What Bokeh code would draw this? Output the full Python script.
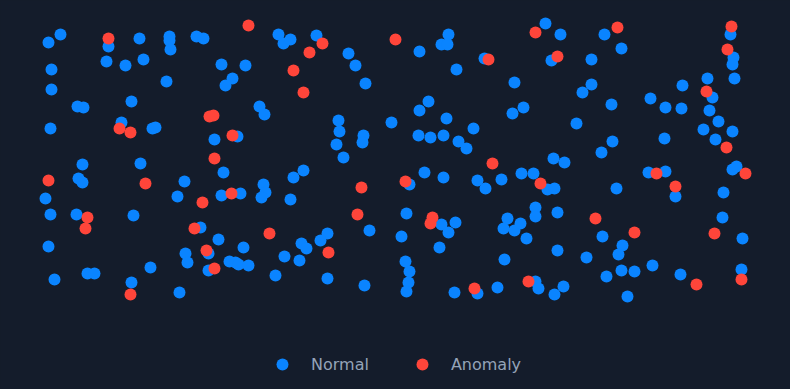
from bokeh.plotting import figure
from bokeh.models import Range1d, Legend, LegendItem, ColumnDataSource
from bokeh.embed import file_html
from bokeh.resources import INLINE

BG = "#141c2b"
BLUE = "#0a84ff"
RED = "#ff453a"

normal_x = [48, 60, 108, 139, 169, 169, 170, 196, 203, 106, 125, 143, 51, 221, 245, 232, 225, 166, 51, 131, 77, 83, 259, 264, 50, 121, 152, 155, 214, 237, 82, 140,
            278, 283, 290, 316, 448, 441, 447, 419, 348, 355, 365, 484, 456, 514, 428, 419, 338, 339, 336, 343, 363, 362, 391, 446, 473, 418, 430, 443, 458, 466, 512,
            545, 560, 604, 621, 551, 591, 730, 733, 732, 707, 734, 682, 591, 582, 712, 650, 665, 681, 709, 523, 611, 576, 718, 703, 732, 715, 664, 612, 601, 553, 564,
            223, 78, 82, 184, 45, 177, 221, 240, 263, 265, 261, 50, 76, 133, 200, 218, 48, 185, 187, 208, 243, 229, 235, 238, 248, 208, 150, 87, 94, 275, 54, 131, 179,
            303, 293, 409, 424, 443, 477, 485, 501, 290, 406, 441, 455, 448, 507, 503, 514, 369, 327, 320, 401, 301, 306, 284, 299, 439, 405, 409, 408, 406, 327, 364, 504, 454, 477, 497,
            521, 533, 547, 554, 648, 665, 732, 736, 675, 616, 723, 535, 535, 557, 520, 526, 722, 602, 742, 557, 622, 618, 586, 652, 621, 634, 606, 680, 741, 535, 538, 563, 554, 627]
normal_y = [42, 34, 46, 38, 36, 40, 49, 36, 38, 61, 65, 59, 69, 64, 65, 78, 85, 81, 89, 101, 106, 107, 106, 114, 128, 122, 128, 127, 139, 136, 164, 163,
            34, 43, 39, 35, 34, 44, 44, 51, 53, 65, 83, 58, 69, 82, 101, 110, 120, 131, 144, 157, 135, 142, 122, 118, 128, 135, 137, 135, 141, 148, 113,
            23, 34, 34, 48, 60, 59, 34, 57, 64, 78, 78, 85, 84, 92, 97, 98, 107, 108, 110, 107, 104, 123, 121, 129, 131, 139, 138, 141, 152, 158, 162,
            172, 178, 182, 181, 198, 196, 195, 193, 184, 192, 197, 214, 214, 215, 227, 239, 246, 253, 262, 253, 247, 261, 262, 264, 265, 270, 267, 273, 273, 275, 279, 282, 292,
            170, 177, 184, 172, 177, 180, 188, 179, 199, 213, 224, 222, 232, 218, 228, 230, 230, 233, 240, 236, 243, 248, 256, 260, 247, 261, 271, 282, 291, 278, 285, 259, 292, 293, 287,
            173, 173, 189, 188, 172, 171, 169, 166, 196, 188, 192, 207, 216, 212, 223, 238, 217, 236, 238, 250, 245, 254, 257, 265, 270, 271, 276, 274, 269, 281, 288, 286, 294, 296]

anomaly_x = [108, 248, 209, 213, 119, 130, 232, 214,
             322, 309, 293, 303, 395, 488,
             535, 617, 557, 731, 727, 706, 726,
             48, 145, 202, 231, 87, 85, 194, 269, 206, 214, 130,
             361, 405, 492, 357, 432, 430, 328, 474,
             540, 656, 745, 675, 595, 634, 714, 741, 696, 528]
anomaly_y = [38, 25, 116, 115, 128, 132, 135, 158,
             43, 52, 70, 92, 39, 59,
             32, 27, 56, 26, 49, 91, 147,
             180, 183, 202, 193, 217, 228, 228, 233, 250, 268, 294,
             187, 181, 163, 214, 217, 223, 252, 288,
             183, 173, 173, 186, 218, 232, 233, 279, 284, 281]

series_labels = ["Normal", "Anomaly"]

p = figure(width=790, height=389, output_backend="svg", toolbar_location=None,
           x_axis_type=None, y_axis_type=None,
           x_range=Range1d(0, 790), y_range=Range1d(389, 0),
           min_border=0, min_border_left=0, min_border_right=0,
           min_border_top=0, min_border_bottom=0)
p.background_fill_color = BG
p.border_fill_color = BG
p.outline_line_color = None
p.grid.visible = False

r_normal = p.scatter(x="x", y="y", source=ColumnDataSource(dict(x=normal_x, y=normal_y)),
                     size=12, fill_color=BLUE, line_color=None)
r_anom = p.scatter(x="x", y="y", source=ColumnDataSource(dict(x=anomaly_x, y=anomaly_y)),
                   size=12, fill_color=RED, line_color=None)

legend = Legend(items=[LegendItem(label=series_labels[0], renderers=[r_normal]),
                       LegendItem(label=series_labels[1], renderers=[r_anom])],
                orientation="horizontal", location=(267, 10), padding=0, margin=0,
                spacing=38, glyph_width=30, glyph_height=30, label_standoff=14,
                border_line_color=None, background_fill_alpha=0,
                label_text_font="DejaVu Sans", label_text_font_size="16px",
                label_text_color="#94a3b8")
p.add_layout(legend)

html = file_html(p, INLINE)
html = html.replace("</head>", "<style>body{background:#141c2b;}</style></head>")
open("out.html", "w").write(html)
